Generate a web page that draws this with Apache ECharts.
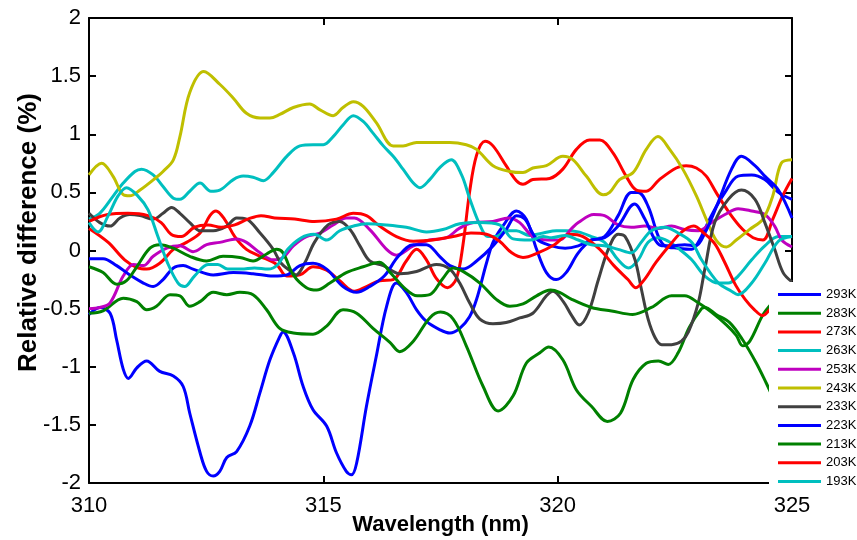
<!DOCTYPE html>
<html>
<head>
<meta charset="utf-8">
<script src="https://cdn.jsdelivr.net/npm/echarts@6/dist/echarts.min.js"></script>
<style>
  html, body { margin: 0; padding: 0; background: #fff; }
  #chart { width: 857px; height: 540px; }
</style>
</head>
<body>
<div id="chart"></div>
<script>
// Relative difference of cross sections per temperature, as [wavelength nm, percent]
const temperatures = ['293K', '283K', '273K', '263K', '253K', '243K', '233K', '223K', '213K', '203K', '193K'];
const lineColors = ['#0000ff', '#008000', '#ff0000', '#00bfbf', '#bf00bf', '#bfbf00', '#404040', '#0000ff', '#008000', '#ff0000', '#00bfbf'];

const k293 = [[310.0,-0.55],[310.23,-0.49],[310.45,-0.54],[310.59,-0.77],[310.73,-1.02],[310.84,-1.10],[311.02,-1.01],[311.23,-0.95],[311.51,-1.04],[311.80,-1.08],[312.01,-1.17],[312.15,-1.40],[312.37,-1.74],[312.51,-1.90],[312.65,-1.94],[312.79,-1.90],[312.94,-1.78],[313.15,-1.73],[313.43,-1.51],[313.65,-1.22],[313.86,-0.94],[314.07,-0.74],[314.14,-0.70],[314.36,-0.88],[314.57,-1.17],[314.78,-1.37],[315.07,-1.51],[315.28,-1.74],[315.49,-1.90],[315.60,-1.93],[315.71,-1.83],[315.92,-1.34],[316.13,-0.91],[316.35,-0.48],[316.56,-0.28],[316.77,-0.36],[316.99,-0.51],[317.2,-0.61],[317.48,-0.68],[317.70,-0.71],[317.91,-0.67],[318.12,-0.57],[318.27,-0.42],[318.48,-0.11],[318.62,0.07],[318.83,0.21],[319.12,0.34],[319.33,0.27],[319.55,0.01],[319.76,-0.19],[319.97,-0.25],[320.18,-0.19],[320.44,-0.02],[320.72,0.09],[321.0,0.12],[321.29,0.30],[321.57,0.50],[321.72,0.50],[321.93,0.38],[322.15,0.12],[322.29,0.04],[322.57,0.02],[322.86,0.01],[323.0,0.07],[323.28,0.30],[323.57,0.50],[323.85,0.64],[324.14,0.65],[324.42,0.61],[324.71,0.50],[325.0,0.44]];

const k283 = [[310.0,-0.54],[310.3,-0.52],[310.73,-0.41],[311.02,-0.44],[311.23,-0.51],[311.44,-0.48],[311.73,-0.38],[311.94,-0.39],[312.15,-0.48],[312.37,-0.44],[312.65,-0.36],[312.94,-0.38],[313.22,-0.36],[313.5,-0.38],[313.79,-0.51],[314.07,-0.67],[314.36,-0.71],[314.78,-0.72],[315.07,-0.65],[315.42,-0.51],[315.71,-0.54],[316.06,-0.67],[316.42,-0.79],[316.63,-0.87],[316.92,-0.78],[317.27,-0.58],[317.5,-0.53],[317.77,-0.59],[318.05,-0.82],[318.41,-1.17],[318.73,-1.38],[319.05,-1.25],[319.33,-0.97],[319.62,-0.88],[319.81,-0.83],[320.11,-0.94],[320.40,-1.20],[320.72,-1.34],[321.06,-1.47],[321.34,-1.40],[321.61,-1.11],[321.89,-0.97],[322.15,-0.95],[322.36,-0.98],[322.57,-0.88],[322.81,-0.66],[323.07,-0.50],[323.14,-0.49],[323.38,-0.55],[323.67,-0.62],[323.95,-0.77],[324.24,-0.97],[324.45,-1.14],[324.7,-1.35],[325.0,-1.55]];

const k273 = [[310.0,0.19],[310.41,0.07],[310.76,-0.08],[311.04,-0.15],[311.23,-0.16],[311.51,-0.11],[311.80,0.01],[312.08,0.07],[312.37,0.15],[312.58,0.30],[312.71,0.34],[312.89,0.27],[313.11,0.12],[313.36,0.01],[313.65,-0.05],[314.0,-0.12],[314.22,-0.22],[314.5,-0.21],[314.78,-0.14],[315.07,-0.17],[315.35,-0.26],[315.66,-0.35],[315.92,-0.31],[316.2,-0.26],[316.49,-0.25],[316.77,-0.09],[316.99,0.01],[317.20,-0.08],[317.41,-0.24],[317.65,-0.32],[317.84,-0.24],[317.98,0.05],[318.12,0.50],[318.27,0.82],[318.45,0.94],[318.62,0.90],[318.90,0.73],[319.12,0.60],[319.26,0.57],[319.47,0.61],[319.83,0.62],[320.11,0.70],[320.40,0.87],[320.68,0.95],[320.90,0.95],[321.18,0.84],[321.46,0.64],[321.68,0.52],[321.89,0.51],[322.17,0.61],[322.53,0.71],[322.74,0.73],[322.96,0.71],[323.17,0.64],[323.38,0.50],[323.67,0.32],[323.95,0.18],[324.17,0.11],[324.38,0.09],[324.59,0.27],[324.8,0.47],[325.0,0.62]];

const k263 = [[310.0,0.27],[310.23,0.32],[310.52,0.47],[310.73,0.58],[310.98,0.68],[311.12,0.70],[311.37,0.65],[311.58,0.55],[311.8,0.45],[311.94,0.44],[312.15,0.51],[312.37,0.58],[312.6,0.51],[312.79,0.52],[313.08,0.61],[313.29,0.64],[313.5,0.63],[313.72,0.60],[313.93,0.67],[314.22,0.81],[314.5,0.90],[314.78,0.91],[315.0,0.91],[315.21,0.98],[315.42,1.08],[315.64,1.16],[315.85,1.11],[316.06,1.01],[316.28,0.90],[316.49,0.81],[316.7,0.70],[316.92,0.58],[317.06,0.54],[317.27,0.61],[317.5,0.72],[317.73,0.78],[317.95,0.65],[318.12,0.45],[318.34,0.22],[318.51,0.12],[318.69,0.12],[318.9,0.17],[319.12,0.17],[319.4,0.13],[319.69,0.15],[319.97,0.17],[320.18,0.17],[320.44,0.16],[320.72,0.12],[321.0,0.07],[321.29,-0.08],[321.51,-0.15],[321.72,-0.08],[321.93,0.07],[322.15,0.11],[322.36,0.08],[322.57,0.02],[322.86,-0.08],[323.14,-0.22],[323.43,-0.28],[323.64,-0.28],[323.85,-0.22],[324.14,-0.08],[324.42,0.04],[324.71,0.12],[325.0,0.12]];

const k253 = [[310.0,-0.50],[310.23,-0.49],[310.45,-0.45],[310.73,-0.22],[310.95,-0.12],[311.16,-0.13],[311.37,-0.05],[311.66,0.02],[311.94,0.04],[312.22,-0.01],[312.51,0.05],[312.79,0.07],[313.15,0.10],[313.36,0.07],[313.65,-0.02],[313.93,-0.08],[314.14,-0.06],[314.36,0.04],[314.64,0.12],[314.93,0.15],[315.21,0.22],[315.49,0.28],[315.66,0.28],[315.99,0.18],[316.35,0.01],[316.56,-0.04],[316.92,0.04],[317.27,0.09],[317.63,0.11],[317.9,0.19],[318.2,0.24],[318.62,0.25],[318.95,0.28],[319.19,0.24],[319.47,0.12],[319.8,0.09],[320.04,0.09],[320.3,0.19],[320.44,0.24],[320.77,0.31],[321.0,0.30],[321.29,0.22],[321.57,0.20],[321.86,0.21],[322.15,0.19],[322.43,0.21],[322.71,0.18],[323.0,0.17],[323.28,0.24],[323.57,0.31],[323.85,0.36],[324.14,0.34],[324.42,0.31],[324.63,0.21],[324.78,0.09],[325.0,0.03]];

const k243 = [[310.0,0.65],[310.27,0.75],[310.51,0.64],[310.73,0.48],[310.87,0.47],[311.09,0.52],[311.44,0.63],[311.58,0.68],[311.8,0.78],[311.94,0.98],[312.15,1.36],[312.45,1.54],[312.79,1.43],[313.08,1.31],[313.36,1.18],[313.65,1.14],[313.86,1.14],[314.07,1.17],[314.36,1.23],[314.71,1.26],[314.93,1.21],[315.21,1.16],[315.42,1.23],[315.64,1.28],[315.85,1.24],[316.13,1.10],[316.49,0.90],[316.7,0.90],[316.99,0.93],[317.48,0.93],[317.7,0.93],[318.05,0.91],[318.27,0.87],[318.62,0.73],[318.98,0.68],[319.26,0.67],[319.47,0.71],[319.76,0.73],[320.11,0.81],[320.33,0.78],[320.61,0.64],[320.97,0.48],[321.11,0.50],[321.32,0.61],[321.61,0.67],[321.89,0.87],[322.14,0.98],[322.39,0.87],[322.67,0.70],[322.96,0.47],[323.17,0.27],[323.38,0.09],[323.6,0.03],[323.81,0.09],[324.09,0.18],[324.38,0.27],[324.59,0.47],[324.77,0.75],[325.0,0.78]];

const k233 = [[310.0,0.32],[310.23,0.24],[310.45,0.21],[310.66,0.28],[310.87,0.31],[311.09,0.30],[311.37,0.27],[311.58,0.32],[311.76,0.37],[311.94,0.32],[312.15,0.24],[312.37,0.17],[312.65,0.17],[312.94,0.21],[313.15,0.28],[313.36,0.27],[313.65,0.15],[313.93,0.01],[314.1,-0.11],[314.31,-0.18],[314.42,-0.21],[314.6,-0.11],[314.81,0.07],[315.1,0.22],[315.35,0.25],[315.57,0.18],[315.78,0.04],[315.99,-0.09],[316.28,-0.13],[316.63,-0.20],[316.99,-0.18],[317.41,-0.12],[317.70,-0.16],[317.91,-0.28],[318.12,-0.45],[318.34,-0.59],[318.62,-0.63],[318.90,-0.62],[319.19,-0.58],[319.47,-0.54],[319.76,-0.39],[319.9,-0.35],[320.12,-0.44],[320.3,-0.56],[320.46,-0.64],[320.65,-0.54],[320.87,-0.25],[321.08,0.01],[321.29,0.14],[321.44,0.12],[321.65,-0.08],[321.79,-0.34],[321.93,-0.59],[322.08,-0.75],[322.22,-0.81],[322.43,-0.81],[322.64,-0.78],[322.79,-0.70],[323.0,-0.45],[323.14,-0.16],[323.35,0.24],[323.64,0.44],[323.92,0.52],[324.21,0.44],[324.42,0.24],[324.63,0.01],[324.81,-0.19],[325.0,-0.27]];

const k223 = [[310.0,-0.07],[310.3,-0.07],[310.59,-0.13],[310.87,-0.21],[311.16,-0.28],[311.37,-0.31],[311.58,-0.25],[311.8,-0.15],[312.01,-0.13],[312.22,-0.16],[312.65,-0.21],[313.08,-0.19],[313.5,-0.20],[313.93,-0.22],[314.22,-0.21],[314.5,-0.13],[314.78,-0.11],[315.07,-0.16],[315.42,-0.31],[315.71,-0.36],[315.99,-0.31],[316.3,-0.22],[316.6,-0.05],[316.92,0.05],[317.2,0.05],[317.48,-0.05],[317.70,-0.13],[317.98,-0.16],[318.27,-0.09],[318.62,0.04],[318.9,0.18],[319.12,0.30],[319.3,0.27],[319.55,0.10],[319.87,0.04],[320.16,0.02],[320.44,0.04],[320.72,0.09],[321.0,0.11],[321.29,0.21],[321.64,0.40],[321.86,0.27],[322.08,0.09],[322.22,0.04],[322.43,0.04],[322.71,0.05],[322.93,0.04],[323.14,0.15],[323.42,0.41],[323.71,0.70],[323.92,0.81],[324.21,0.73],[324.42,0.64],[324.71,0.52],[325.0,0.28]];

const k213 = [[310.0,-0.14],[310.3,-0.19],[310.59,-0.29],[310.8,-0.26],[311.02,-0.14],[311.3,0.02],[311.51,0.05],[311.8,0.02],[312.15,-0.05],[312.51,-0.09],[312.86,-0.05],[313.22,-0.06],[313.5,-0.09],[313.79,-0.03],[314.0,0.01],[314.14,-0.02],[314.36,-0.21],[314.64,-0.32],[314.86,-0.34],[315.14,-0.28],[315.49,-0.19],[315.85,-0.14],[316.2,-0.10],[316.45,-0.20],[316.75,-0.33],[317.0,-0.39],[317.27,-0.38],[317.55,-0.24],[317.77,-0.15],[317.98,-0.18],[318.34,-0.28],[318.69,-0.42],[318.98,-0.48],[319.26,-0.46],[319.55,-0.39],[319.85,-0.34],[320.04,-0.36],[320.30,-0.42],[320.72,-0.49],[321.15,-0.52],[321.6,-0.55],[322.0,-0.49],[322.43,-0.39],[322.71,-0.39],[323.0,-0.45],[323.28,-0.53],[323.6,-0.64],[323.81,-0.73],[323.95,-0.82],[324.1,-0.78],[324.4,-0.54],[324.7,-0.40],[325.0,-0.30]];

const k203 = [[310.0,0.25],[310.4,0.31],[310.83,0.32],[311.26,0.30],[311.54,0.24],[311.75,0.14],[311.97,0.12],[312.25,0.20],[312.54,0.22],[312.82,0.20],[313.11,0.22],[313.39,0.27],[313.67,0.30],[313.96,0.28],[314.39,0.27],[314.81,0.25],[315.28,0.27],[315.64,0.32],[315.92,0.30],[316.2,0.21],[316.56,0.12],[316.92,0.08],[317.34,0.09],[317.77,0.12],[318.15,0.15],[318.48,0.14],[318.76,0.08],[319.02,-0.02],[319.26,-0.06],[319.58,-0.02],[319.93,0.05],[320.25,0.14],[320.54,0.12],[320.9,0.01],[321.2,-0.13],[321.5,-0.25],[321.67,-0.32],[321.85,-0.25],[322.1,-0.10],[322.4,0.05],[322.65,0.16],[322.9,0.21],[323.12,0.15],[323.35,0.06],[323.55,-0.09],[323.8,-0.30],[324.0,-0.42],[324.2,-0.51],[324.37,-0.56],[324.52,-0.51],[324.75,-0.40],[325.0,-0.30]];

const k193 = [[310.0,0.24],[310.19,0.16],[310.41,0.30],[310.62,0.47],[310.8,0.54],[311.04,0.47],[311.26,0.35],[311.47,0.12],[311.68,-0.11],[311.9,-0.28],[312.04,-0.31],[312.25,-0.22],[312.54,-0.12],[312.75,-0.12],[312.96,-0.16],[313.25,-0.16],[313.53,-0.15],[313.82,-0.16],[314.03,-0.12],[314.24,0.01],[314.53,0.11],[314.8,0.14],[315.07,0.09],[315.35,0.17],[315.64,0.21],[315.92,0.23],[316.35,0.22],[316.77,0.20],[317.2,0.16],[317.55,0.18],[317.91,0.23],[318.34,0.24],[318.76,0.22],[319.05,0.10],[319.41,0.09],[319.69,0.12],[319.87,0.11],[320.16,0.13],[320.44,0.09],[320.72,0.05],[321.0,0.04],[321.29,0.01],[321.57,-0.02],[321.8,0.08],[322.0,0.17],[322.29,0.20],[322.57,0.15],[322.86,0.07],[323.07,-0.08],[323.43,-0.28],[323.71,-0.35],[323.85,-0.38],[324.14,-0.28],[324.42,-0.11],[324.71,0.08],[325.0,0.12]];

const seriesData = [k293, k283, k273, k263, k253, k243, k233, k223, k213, k203, k193];

const FONT = 'Liberation Sans, Arial, sans-serif';
const axisLine = { show: true, onZero: false, lineStyle: { color: '#000', width: 2 } };
const innerTick = { show: true, inside: true, length: 7, lineStyle: { color: '#000', width: 2 } };

const chart = echarts.init(document.getElementById('chart'), null, { renderer: 'canvas' });

chart.setOption({
  animation: false,
  backgroundColor: '#fff',
  grid: { left: 89, right: 65, top: 18, bottom: 57, containLabel: false, outerBoundsMode: 'none' },
  xAxis: [
    {
      type: 'value', position: 'bottom', min: 310, max: 325, interval: 5,
      name: 'Wavelength (nm)', nameLocation: 'middle', nameGap: 31, nameMoveOverlap: false,
      nameTextStyle: { fontFamily: FONT, fontSize: 22, fontWeight: 'bold', color: '#000' },
      axisLine: axisLine, axisTick: innerTick, splitLine: { show: false },
      axisLabel: { fontFamily: FONT, fontSize: 22, color: '#000', margin: 12 }
    },
    {
      type: 'value', position: 'top', min: 310, max: 325, interval: 5,
      axisLine: axisLine, axisTick: innerTick, splitLine: { show: false },
      axisLabel: { show: false }
    }
  ],
  yAxis: [
    {
      type: 'value', position: 'left', min: -2, max: 2, interval: 0.5,
      name: 'Relative difference (%)', nameLocation: 'middle', nameGap: 47, nameRotate: 90, nameMoveOverlap: false,
      nameTextStyle: { fontFamily: FONT, fontSize: 26, fontWeight: 'bold', color: '#000', padding: [0, 0, 0, 36] },
      axisLine: axisLine, axisTick: innerTick, splitLine: { show: false },
      axisLabel: { fontFamily: FONT, fontSize: 22, color: '#000', margin: 8, padding: [6, 0, 0, 0] }
    },
    {
      type: 'value', position: 'right', min: -2, max: 2, interval: 0.5,
      axisLine: axisLine, axisTick: innerTick, splitLine: { show: false },
      axisLabel: { show: false }
    }
  ],
  legend: {
    orient: 'vertical', left: 769, top: 282,
    backgroundColor: '#fff', padding: [6, 0, 6, 9],
    icon: 'rect', itemWidth: 43, itemHeight: 3, itemGap: 5.7,
    textStyle: { fontFamily: FONT, fontSize: 13, color: '#000' },
    data: temperatures
  },
  series: temperatures.map((name, i) => ({
    name: name,
    type: 'line',
    xAxisIndex: 0,
    yAxisIndex: 0,
    data: seriesData[i],
    symbol: 'none',
    smooth: 0.35,
    color: lineColors[i],
    lineStyle: { width: 3, color: lineColors[i] }
  }))
});
</script>
</body>
</html>
